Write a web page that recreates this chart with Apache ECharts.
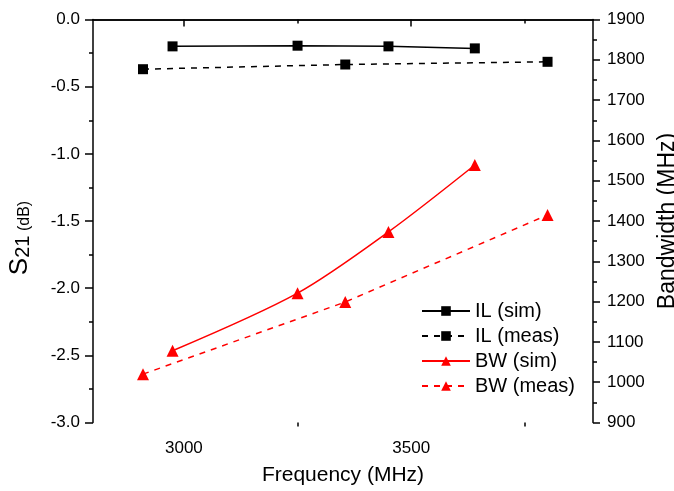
<!DOCTYPE html>
<html>
<head>
<meta charset="utf-8">
<script src="https://cdn.jsdelivr.net/npm/echarts@6/dist/echarts.min.js"></script>
<style>html,body{margin:0;padding:0;background:#fff;}#c{width:674px;height:491px;}</style>
</head>
<body>
<div id="c"></div>
<script>
// Data
const ilSimFreq = [2975, 3250, 3450, 3640];
const ilSim = [-0.20, -0.195, -0.20, -0.215];
const ilMeasFreq = [2910, 3355, 3800];
const ilMeas = [-0.37, -0.335, -0.315];
const bwSimFreq = [2975, 3250, 3450, 3640];
const bwSim = [1078, 1221, 1373, 1539];
const bwMeasFreq = [2910, 3355, 3800];
const bwMeas = [1020, 1199, 1415];
const xMajorTicks = [3000, 3500];
const xMinorTicks = [3250, 3750];

const FONT = 'Liberation Sans, Arial, sans-serif';
const pair = (xs, ys) => xs.map((x, i) => [x, ys[i]]);

const chart = echarts.init(document.getElementById('c'), null, {renderer: 'canvas'});
const axisLine = {show: true, lineStyle: {color: '#000', width: 1.5}};
const label = {color: '#000', fontSize: 17, fontFamily: FONT};

chart.setOption({
  animation: false,
  backgroundColor: '#fff',
  grid: {left: 93, right: 81, top: 19.5, bottom: 68.5, containLabel: false, outerBoundsMode: 'none'},
  legend: {
    orient: 'vertical', left: 416, top: 296, itemWidth: 48, itemHeight: 12, itemGap: 5,
    textStyle: {color: '#000', fontSize: 20, fontFamily: FONT},
    data: ['IL (sim)', 'IL (meas)', 'BW (sim)', 'BW (meas)']
  },
  xAxis: [
    {
      type: 'value', min: 2800, max: 3900, position: 'bottom',
      name: 'Frequency (MHz)', nameLocation: 'middle', nameGap: 42,
      nameTextStyle: {color: '#000', fontSize: 21, fontFamily: FONT},
      axisLine: axisLine,
      axisTick: {show: true, inside: false, length: 6, customValues: xMajorTicks, lineStyle: {color: '#000', width: 1.5}},
      axisLabel: Object.assign({customValues: xMajorTicks, margin: 17, formatter: v => String(v)}, label),
      splitLine: {show: false}
    },
    {
      type: 'value', min: 2800, max: 3900, position: 'bottom',
      axisLine: {show: false},
      axisTick: {show: true, inside: false, length: 4, customValues: xMinorTicks, lineStyle: {color: '#000', width: 1.5}},
      axisLabel: {show: false}, splitLine: {show: false}
    },
    {
      type: 'value', min: 2800, max: 3900, position: 'top',
      axisLine: axisLine,
      axisTick: {show: true, inside: true, length: 7, customValues: xMajorTicks, lineStyle: {color: '#000', width: 1.5}},
      axisLabel: {show: false}, splitLine: {show: false}
    },
    {
      type: 'value', min: 2800, max: 3900, position: 'top',
      axisLine: {show: false},
      axisTick: {show: true, inside: true, length: 4, customValues: xMinorTicks, lineStyle: {color: '#000', width: 1.5}},
      axisLabel: {show: false}, splitLine: {show: false}
    }
  ],
  yAxis: [
    {
      type: 'value', min: -3, max: 0, interval: 0.5, position: 'left',
      name: '{s|S}{sub|21}{u| (dB)}', nameLocation: 'middle', nameGap: 60,
      nameTextStyle: {
        color: '#000', fontFamily: FONT, padding: [0, 34, 0, 0],
        rich: {
          s: {fontSize: 26, fontFamily: FONT, color: '#000', verticalAlign: 'bottom', lineHeight: 32},
          sub: {fontSize: 20, fontFamily: FONT, color: '#000', verticalAlign: 'bottom', lineHeight: 26},
          u: {fontSize: 16, fontFamily: FONT, color: '#000', verticalAlign: 'bottom', lineHeight: 26}
        }
      },
      axisLine: axisLine,
      axisTick: {show: true, inside: false, length: 8, lineStyle: {color: '#000', width: 1.5}},
      minorTick: {show: true, splitNumber: 2, length: 4, lineStyle: {color: '#000', width: 1.5}},
      axisLabel: Object.assign({margin: 13, formatter: v => v.toFixed(1)}, label),
      splitLine: {show: false}
    },
    {
      type: 'value', min: 900, max: 1900, interval: 100, position: 'right',
      name: 'Bandwidth (MHz)', nameLocation: 'middle', nameGap: 56, nameRotate: 90,
      nameTextStyle: {color: '#000', fontSize: 23, fontFamily: FONT},
      axisLine: axisLine,
      axisTick: {show: true, inside: false, length: 7, lineStyle: {color: '#000', width: 1.5}},
      minorTick: {show: true, splitNumber: 2, length: 4, lineStyle: {color: '#000', width: 1.5}},
      axisLabel: Object.assign({margin: 14, formatter: v => String(v)}, label),
      splitLine: {show: false}
    }
  ],
  series: [
    {
      name: 'IL (sim)', type: 'line', xAxisIndex: 0, yAxisIndex: 0,
      data: pair(ilSimFreq, ilSim), symbol: 'rect', symbolSize: 10,
      lineStyle: {color: '#000', width: 1.5, type: 'solid'}, itemStyle: {color: '#000'}
    },
    {
      name: 'IL (meas)', type: 'line', xAxisIndex: 0, yAxisIndex: 0,
      data: pair(ilMeasFreq, ilMeas), symbol: 'rect', symbolSize: 10,
      lineStyle: {color: '#000', width: 1.5, type: [6, 6]}, itemStyle: {color: '#000'}
    },
    {
      name: 'BW (sim)', type: 'line', xAxisIndex: 0, yAxisIndex: 1,
      data: pair(bwSimFreq, bwSim), symbol: 'triangle', symbolSize: 12, smooth: 0.3,
      lineStyle: {color: '#ff0000', width: 1.5, type: 'solid'}, itemStyle: {color: '#ff0000'}
    },
    {
      name: 'BW (meas)', type: 'line', xAxisIndex: 0, yAxisIndex: 1,
      data: pair(bwMeasFreq, bwMeas), symbol: 'triangle', symbolSize: 12,
      lineStyle: {color: '#ff0000', width: 1.5, type: [6, 6]}, itemStyle: {color: '#ff0000'}
    }
  ]
});
</script>
</body>
</html>
